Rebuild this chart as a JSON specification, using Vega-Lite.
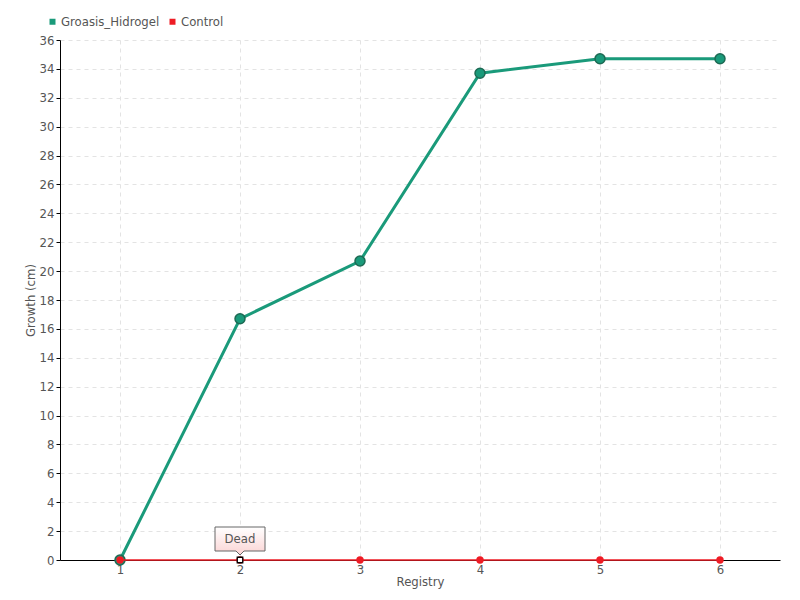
{
  "$schema": "https://vega.github.io/schema/vega-lite/v6.json",
  "width": 720,
  "height": 520,
  "autosize": "none",
  "padding": {"left": 60, "top": 40, "right": 20, "bottom": 40},
  "background": "white",
  "config": {
    "font": "DejaVu Sans Condensed, Liberation Sans Narrow, sans-serif",
    "view": {"stroke": null},
    "axis": {
      "domainColor": "#000000",
      "domainWidth": 1,
      "labelColor": "#555555",
      "labelFontSize": 13,
      "titleColor": "#555555",
      "titleFontSize": 13,
      "titleFontWeight": "normal",
      "gridColor": "#e3e3e3",
      "gridDash": [4, 4],
      "tickColor": "#000000"
    }
  },
  "datasets": {
    "growth": [
      {"registry": 1, "growth": 0, "series": "Groasis_Hidrogel"},
      {"registry": 2, "growth": 16.7, "series": "Groasis_Hidrogel"},
      {"registry": 3, "growth": 20.7, "series": "Groasis_Hidrogel"},
      {"registry": 4, "growth": 33.7, "series": "Groasis_Hidrogel"},
      {"registry": 5, "growth": 34.7, "series": "Groasis_Hidrogel"},
      {"registry": 6, "growth": 34.7, "series": "Groasis_Hidrogel"},
      {"registry": 1, "growth": 0, "series": "Control"},
      {"registry": 2, "growth": 0, "series": "Control"},
      {"registry": 3, "growth": 0, "series": "Control"},
      {"registry": 4, "growth": 0, "series": "Control"},
      {"registry": 5, "growth": 0, "series": "Control"},
      {"registry": 6, "growth": 0, "series": "Control"}
    ],
    "notes": [
      {"registry": 2, "growth": 0, "label": "Dead"}
    ]
  },
  "encoding": {
    "x": {
      "field": "registry", "type": "quantitative",
      "scale": {"domain": [0.5, 6.5], "nice": false, "zero": false},
      "axis": {"title": "Registry", "values": [1, 2, 3, 4, 5, 6], "ticks": false, "labelPadding": 3, "titlePadding": -1}
    },
    "y": {
      "field": "growth", "type": "quantitative",
      "scale": {"domain": [0, 36], "nice": false},
      "axis": {"title": "Growth (cm)", "values": [0,2,4,6,8,10,12,14,16,18,20,22,24,26,28,30,32,34,36], "tickSize": 4, "labelPadding": 2, "titlePadding": 2}
    }
  },
  "layer": [
    {
      "data": {"name": "growth"},
      "transform": [{"filter": "datum.series === 'Groasis_Hidrogel'"}],
      "mark": {"type": "line", "color": "#1a9a7a", "strokeWidth": 3}
    },
    {
      "data": {"name": "growth"},
      "transform": [{"filter": "datum.series === 'Groasis_Hidrogel'"}],
      "mark": {"type": "point", "filled": true, "size": 100, "stroke": "#1d6a54", "strokeWidth": 1.5, "opacity": 1},
      "encoding": {
        "color": {
          "field": "series", "type": "nominal",
          "scale": {"domain": ["Groasis_Hidrogel", "Control"], "range": ["#1a9a7a", "#ee1c25"]},
          "legend": {
            "title": null, "orient": "none", "legendX": -14, "legendY": -25,
            "direction": "horizontal", "symbolType": "square", "symbolSize": 36,
            "symbolStrokeWidth": 0, "labelFontSize": 13, "labelColor": "#555555",
            "labelOffset": 2, "columnPadding": 6
          }
        }
      }
    },
    {
      "data": {"name": "growth"},
      "transform": [{"filter": "datum.series === 'Control'"}],
      "mark": {"type": "line", "color": "#ee1c25", "strokeWidth": 1.5}
    },
    {
      "data": {"name": "growth"},
      "transform": [{"filter": "datum.series === 'Control'"}],
      "mark": {"type": "point", "filled": true, "size": 55, "strokeWidth": 0, "opacity": 1},
      "encoding": {
        "color": {"field": "series", "type": "nominal"}
      }
    },
    {
      "data": {"name": "notes"},
      "mark": {"type": "point", "shape": "square", "filled": true, "size": 30, "fill": "#ffffff", "stroke": "#000000", "strokeWidth": 1.3, "opacity": 1}
    },
    {
      "data": {"name": "notes"},
      "mark": {
        "type": "point",
        "shape": "M-1,-1.32 L1,-1.32 L1,-0.36 L0.16,-0.36 L0,-0.2 L-0.16,-0.36 L-1,-0.36 Z",
        "size": 2500,
        "filled": true,
        "opacity": 1,
        "fill": {"gradient": "linear", "x1": 0, "y1": 0, "x2": 0, "y2": 1,
          "stops": [{"offset": 0, "color": "#ffffff"}, {"offset": 1, "color": "#fbd3d3"}]},
        "stroke": "#666666",
        "strokeWidth": 1
      }
    },
    {
      "data": {"name": "notes"},
      "mark": {"type": "text", "dy": -21, "fontSize": 13, "color": "#555555"},
      "encoding": {"text": {"field": "label"}}
    }
  ]
}
